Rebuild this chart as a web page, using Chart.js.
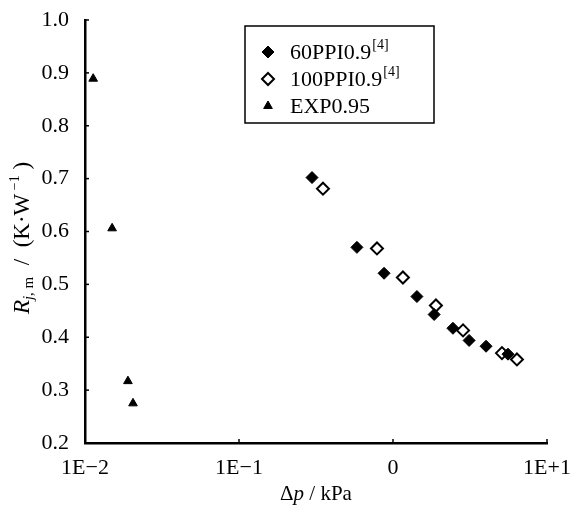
<!DOCTYPE html>
<html>
<head>
<meta charset="utf-8">
<script src="https://cdn.jsdelivr.net/npm/chart.js@4.4.1/dist/chart.umd.min.js"></script>
<style>
  html, body { margin: 0; padding: 0; background: #fff; }
  #wrap { width: 571px; height: 513px; }
</style>
</head>
<body>
<div id="wrap"><canvas id="rjmChart"></canvas></div>
<script>
// x: pressure drop (kPa, log axis), y: Rj,m (K/W)
const xTickValues = [0.01, 0.1, 1, 10];
const xTickLabels = ['1E\u22122', '1E\u22121', '0', '1E+1'];
const yTickValues = [0.2, 0.3, 0.4, 0.5, 0.6, 0.7, 0.8, 0.9, 1.0];

const ppi60X = [0.298, 0.583, 0.875, 1.43, 1.85, 2.45, 3.12, 4.02, 5.58];
const ppi60Y = [0.702, 0.570, 0.521, 0.477, 0.443, 0.417, 0.394, 0.383, 0.368];

const ppi100X = [0.351, 0.787, 1.16, 1.90, 2.85, 5.10, 6.38];
const ppi100Y = [0.681, 0.568, 0.513, 0.460, 0.413, 0.370, 0.358];

const expX = [0.0113, 0.0150, 0.0190, 0.0205];
const expY = [0.889, 0.606, 0.317, 0.275];

const seriesNames = ['60PPI0.9', '100PPI0.9', 'EXP0.95'];
const seriesRefs = ['[4]', '[4]', ''];

const serif = '"Liberation Serif", "Times New Roman", serif';

function toPoints(xs, ys) {
  return xs.map((x, i) => ({ x: x, y: ys[i] }));
}

// draw a row of text pieces (italic / sub / sup) centred at cx,cy
function drawRich(ctx, parts, cx, cy) {
  let total = 0;
  parts.forEach(p => {
    ctx.font = (p.italic ? 'italic ' : '') + p.size + 'px ' + serif;
    p.w = ctx.measureText(p.text).width;
    total += p.w;
  });
  let x = cx - total / 2;
  ctx.textBaseline = 'middle';
  ctx.textAlign = 'left';
  parts.forEach(p => {
    ctx.font = (p.italic ? 'italic ' : '') + p.size + 'px ' + serif;
    ctx.fillText(p.text, x, cy + (p.dy || 0));
    x += p.w;
  });
}

const extrasPlugin = {
  id: 'extras',
  afterDraw(chart) {
    const ctx = chart.ctx;
    const area = chart.chartArea;
    const xs = chart.scales.x;
    const ys = chart.scales.y;
    ctx.save();
    ctx.strokeStyle = '#000';
    ctx.fillStyle = '#000';
    ctx.lineWidth = 1.5;

    // inward ticks
    yTickValues.forEach(v => {
      const py = ys.getPixelForValue(v);
      ctx.beginPath();
      ctx.moveTo(area.left, py);
      ctx.lineTo(area.left + 4, py);
      ctx.stroke();
    });
    xTickValues.forEach(v => {
      const px = xs.getPixelForValue(v);
      ctx.beginPath();
      ctx.moveTo(px, area.bottom);
      ctx.lineTo(px, area.bottom - 4);
      ctx.stroke();
    });

    // axis titles
    drawRich(ctx, [
      { text: '\u0394', size: 21 },
      { text: 'p', size: 21, italic: true },
      { text: ' / kPa', size: 21 }
    ], (area.left + area.right) / 2, 494);

    ctx.save();
    ctx.translate(23, 238);
    ctx.rotate(-Math.PI / 2);
    drawRich(ctx, [
      { text: 'R', size: 23, italic: true },
      { text: 'j', size: 15, italic: true, dy: 6 },
      { text: ', m', size: 15, dy: 6 },
      { text: '  /  (K\u00b7W', size: 23 },
      { text: ' \u22121', size: 14, dy: -8 },
      { text: ' )', size: 23 }
    ], 0, 0);
    ctx.restore();

    // legend box
    const bx = 245, by = 26, bw = 189, bh = 97;
    ctx.lineWidth = 1.5;
    ctx.strokeRect(bx, by, bw, bh);
    const rowY = [52, 79, 106];
    chart.data.datasets.forEach((ds, i) => {
      const y = rowY[i];
      ctx.fillStyle = ds.pointBackgroundColor;
      ctx.strokeStyle = ds.pointBorderColor;
      ctx.lineWidth = ds.pointBorderWidth;
      Chart.helpers.drawPoint(ctx, {
        pointStyle: ds.pointStyle,
        radius: ds.pointRadius,
        borderWidth: ds.pointBorderWidth
      }, 268, y);
      ctx.fillStyle = '#000';
      ctx.font = '22px ' + serif;
      ctx.textAlign = 'left';
      ctx.textBaseline = 'middle';
      ctx.fillText(seriesNames[i], 290, y + 1);
      if (seriesRefs[i]) {
        const w = ctx.measureText(seriesNames[i]).width;
        ctx.font = '14px ' + serif;
        ctx.fillText(seriesRefs[i], 290 + w + 1, y - 7);
      }
    });
    ctx.restore();
  }
};

new Chart(document.getElementById('rjmChart'), {
  type: 'scatter',
  data: {
    datasets: [
      {
        label: seriesNames[0],
        data: toPoints(ppi60X, ppi60Y),
        pointStyle: 'rectRot',
        pointRadius: 6,
        pointBorderWidth: 1,
        pointBackgroundColor: '#000',
        pointBorderColor: '#000'
      },
      {
        label: seriesNames[1],
        data: toPoints(ppi100X, ppi100Y),
        pointStyle: 'rectRot',
        pointRadius: 6,
        pointBorderWidth: 2,
        pointBackgroundColor: '#fff',
        pointBorderColor: '#000'
      },
      {
        label: seriesNames[2],
        data: toPoints(expX, expY),
        pointStyle: 'triangle',
        pointRadius: 5,
        pointBorderWidth: 1,
        pointBackgroundColor: '#000',
        pointBorderColor: '#000'
      }
    ]
  },
  options: {
    responsive: true,
    maintainAspectRatio: false,
    animation: false,
    layout: {
      padding: { top: 20, right: 24, bottom: 0, left: 0 }
    },
    plugins: {
      legend: { display: false },
      tooltip: { enabled: false }
    },
    scales: {
      x: {
        type: 'logarithmic',
        min: 0.01,
        max: 10,
        afterBuildTicks(scale) {
          scale.ticks = xTickValues.map(v => ({ value: v }));
        },
        afterFit(scale) {
          scale.height = 70;
          scale.paddingLeft = 0;
          scale.paddingRight = 0;
        },
        ticks: {
          autoSkip: false,
          maxRotation: 0,
          padding: 4,
          color: '#000',
          font: { family: serif, size: 22 },
          callback(value) {
            const i = xTickValues.indexOf(value);
            return i >= 0 ? xTickLabels[i] : '';
          }
        },
        grid: { display: false },
        border: { display: true, color: '#000', width: 2.5 }
      },
      y: {
        min: 0.2,
        max: 1.0,
        afterBuildTicks(scale) {
          scale.ticks = yTickValues.map(v => ({ value: v }));
        },
        afterFit(scale) {
          scale.width = 85;
          scale.paddingTop = 0;
          scale.paddingBottom = 0;
        },
        ticks: {
          padding: 8,
          color: '#000',
          font: { family: serif, size: 22 },
          callback(value) {
            return value.toFixed(1);
          }
        },
        grid: { display: false },
        border: { display: true, color: '#000', width: 2.5 }
      }
    }
  },
  plugins: [extrasPlugin]
});
</script>
</body>
</html>
